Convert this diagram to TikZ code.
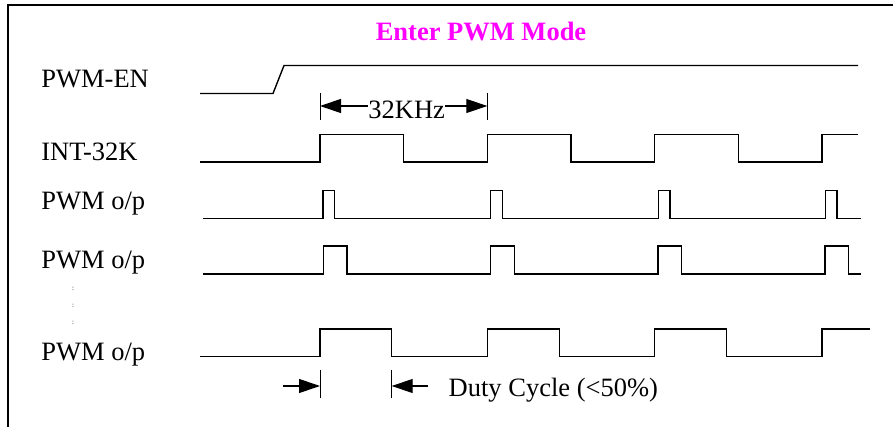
\documentclass[tikz,border=0pt]{standalone}
\usepackage{fontspec}
\setmainfont{Liberation Serif}
\usepackage{tikz}
\usetikzlibrary{arrows.meta,positioning}
\definecolor{rose}{RGB}{255,0,255}

\begin{document}
\begin{tikzpicture}[
    x=0.5pt, y=-0.5pt,
    cadre/.style={
        line width=1pt
    },
    signal/.style={
        line width=0.7pt,
        line join=miter
    },
    repere/.style={
        line width=0.5pt
    },
    cote/.style={
        -{Triangle[length=10.5pt,width=7pt]},
        line width=0.55pt
    },
    etiquette/.style={
        anchor=base west,
        inner sep=0pt,
        font=\fontsize{13.25}{15}\selectfont
    },
    titre/.style={
        anchor=base,
        inner sep=0pt,
        text=rose,
        font=\fontsize{13.25}{15}\selectfont\bfseries
    },
    points/.style={
        inner sep=0pt,
        font=\fontsize{3.5}{4}\selectfont
    }
]
\useasboundingbox (0,0) rectangle (893,427);

% Frame
\draw[cadre] (893,5) -- (8,5) -- (8,427);

% Title
\node[titre] (titre) at (481,40.7) {Enter PWM Mode};

% Signal names
\node[etiquette] (en)   at (41,88)    {PWM-EN};
\node[etiquette] (int)  at (41,161)   {INT-32K};
\node[etiquette] (pwma) at (41,209.5) {PWM o/p};
\node[etiquette] (pwmb) at (41,268)   {PWM o/p};
\node[etiquette] (pwmc) at (41,360)   {PWM o/p};

% Vertical dots
\node[points] (p1) at (73,289)   {:};
\node[points] (p2) at (73,305.5) {:};
\node[points] (p3) at (73,323)   {:};

% PWM-EN
\draw[signal] (200,93.5) -- (273,93.5) -- (284,65.5) -- (858,65.5);

% INT-32K
\draw[signal] (200,162) \foreach \r in {320,487.3,654.7} {
    -- (\r,162) -- (\r,134.5) -- (\r+83.6,134.5) -- (\r+83.6,162)}
    -- (822,162) -- (822,134.5) -- (858,134.5);

% PWM o/p, narrow pulse
\draw[signal] (203,218.7) \foreach \r in {323,490.7,658.3,825.3} {
    -- (\r,218.7) -- (\r,190.7) -- (\r+11.7,190.7) -- (\r+11.7,218.7)}
    -- (861,218.7);

% PWM o/p, wider pulse
\draw[signal] (203,274) \foreach \r in {323.3,490.7,658,825} {
    -- (\r,274) -- (\r,246) -- (\r+23.7,246) -- (\r+23.7,274)}
    -- (861,274);

% PWM o/p, widest pulse
\draw[signal] (200,356.7) \foreach \r in {320,487.7,654.7} {
    -- (\r,356.7) -- (\r,329) -- (\r+71.7,329) -- (\r+71.7,356.7)}
    -- (822,356.7) -- (822,329) -- (870,329);

% Period
\draw[repere] (320,92.7) -- (320,120);
\draw[repere] (487.3,92.7) -- (487.3,120);
\coordinate (f1) at (320,106);
\coordinate (f2) at (487.3,106);
\node[etiquette] (freq) at (368,119) {32KHz};
\draw[cote] (freq.west |- f1) -- (f1);
\draw[cote] (freq.east |- f2) -- (f2);

% Duty cycle
\draw[repere] (320,370) -- (320,398.3);
\draw[repere] (391.7,370) -- (391.7,398.3);
\coordinate (d0) at (283.3,386);
\coordinate (d1) at (320,386);
\coordinate (d2) at (391.7,386);
\coordinate (d3) at (428.3,386);
\draw[cote] (d0) -- (d1);
\draw[cote] (d3) -- (d2);
\node[etiquette] (duty) at (448.3,396.5) {Duty Cycle (<50\%)};

\end{tikzpicture}
\end{document}
